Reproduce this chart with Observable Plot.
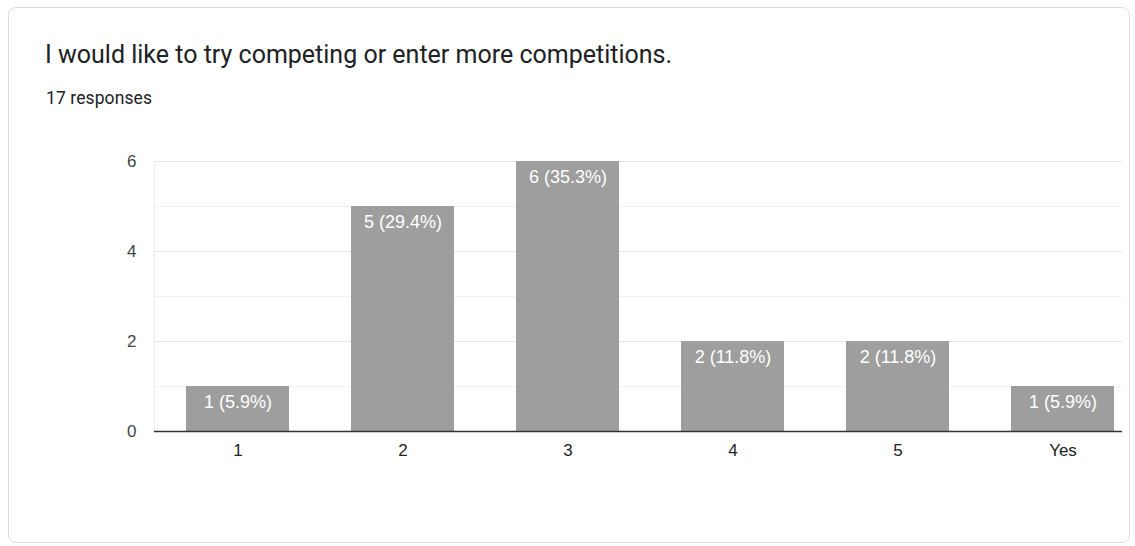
<!DOCTYPE html>
<html>
<head>
<meta charset="utf-8">
<script src="https://cdn.jsdelivr.net/npm/d3@7"></script>
<script src="https://cdn.jsdelivr.net/npm/@observablehq/plot@0.6"></script>
<style>
  html, body { margin: 0; padding: 0; background: #fff; }
  body { width: 1135px; height: 546px; position: relative; overflow: hidden; font-family: Roboto, "Noto Sans", sans-serif; }
  #card { position: absolute; left: 8px; top: 7px; width: 1122px; height: 536px; border: 1px solid #dadce0; border-radius: 8px; box-sizing: border-box; }
  #title { position: absolute; left: 45px; top: 40px; font-size: 25px; color: #202124; white-space: nowrap; }
  #sub { position: absolute; left: 46px; top: 88px; font-size: 17.5px; color: #202124; white-space: nowrap; letter-spacing: 0.1px; }
  #chart { position: absolute; left: 0; top: 140px; }
</style>
</head>
<body>
<div id="card"></div>
<div id="title">I would like to try competing or enter more competitions.</div>
<div id="sub">17 responses</div>
<div id="chart"></div>
<script>
const categories = ["1", "2", "3", "4", "5", "Yes"];
const counts = [1, 5, 6, 2, 2, 1];
const percents = ["5.9", "29.4", "35.3", "11.8", "11.8", "5.9"];
const majorTicks = [0, 2, 4, 6];
const minorTicks = [1, 3, 5];

const data = categories.map((c, i) => ({cat: c, n: counts[i], label: `${counts[i]} (${percents[i]}%)`}));

const chart = Plot.plot({
  width: 1135,
  height: 331,
  marginLeft: 154,
  marginRight: 13,
  marginTop: 21,
  marginBottom: 40,
  style: {fontFamily: "'Liberation Sans', Arial, sans-serif", fontSize: "17px", color: "#444", background: "transparent"},
  x: {domain: categories, paddingInner: 0.373, paddingOuter: 0.118, align: 0.82, label: null},
  y: {domain: [0, 6], label: null},
  marks: [
    Plot.ruleY(minorTicks, {stroke: "#f2f2f2"}),
    Plot.ruleY(majorTicks.filter(d => d > 0), {stroke: "#e6e6e6"}),
    Plot.frame({anchor: "left", stroke: "#ececec"}),
    Plot.barY(data, {x: "cat", y: "n", fill: "#9e9e9e"}),
    Plot.ruleY([0], {stroke: "#333", strokeWidth: 1.5}),
    Plot.text(data, {x: "cat", y: "n", text: "label", dy: 16, fill: "#ffffff", fontSize: 18}),
    Plot.axisY({ticks: majorTicks, tickSize: 0, tickPadding: 18, fontSize: 17, fill: "#444", label: null, tickFormat: d => String(d)}),
    Plot.axisX({tickSize: 0, tickPadding: 12, fontSize: 17, fill: "#222", label: null})
  ]
});
document.getElementById("chart").appendChild(chart);
</script>
</body>
</html>
